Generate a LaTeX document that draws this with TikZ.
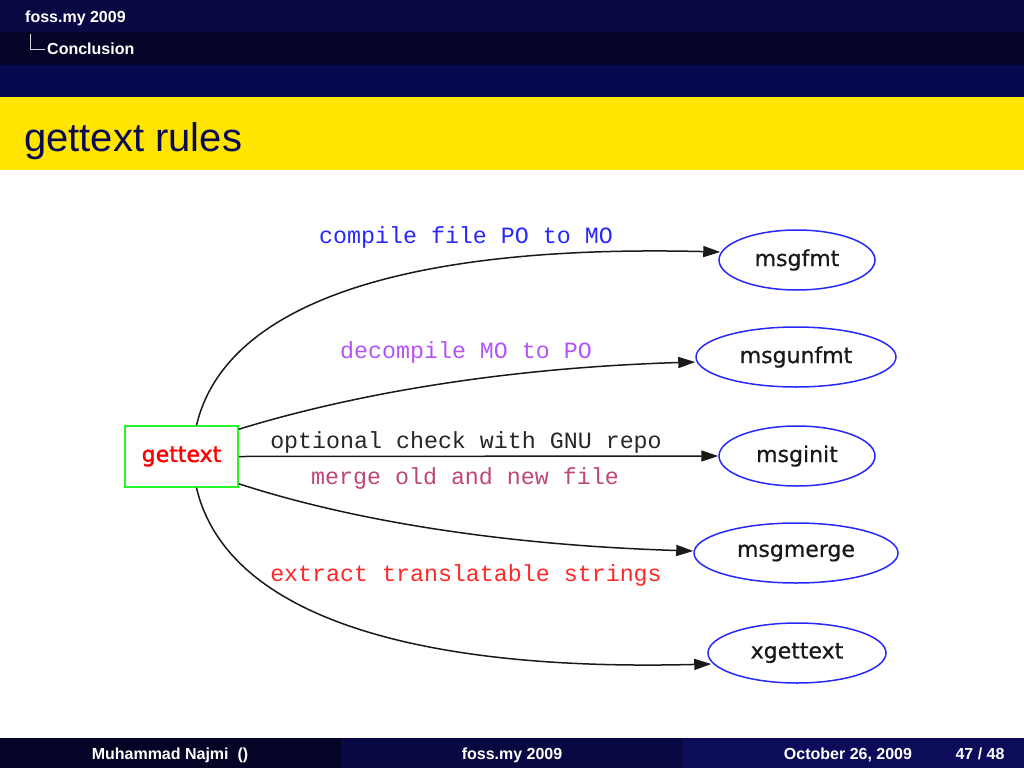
\documentclass[tikz,border=0pt]{standalone}
\usepackage{fontspec}
\setmainfont{Liberation Sans}
\newfontfamily\dejavu[FakeBold=0.6]{DejaVu Sans}
\newfontfamily\dejavubold[FakeBold=1.6]{DejaVu Sans}
\newfontfamily\monofam{Liberation Mono}
\usetikzlibrary{shapes.geometric,arrows.meta}
\definecolor{barA}{RGB}{8,8,66}
\definecolor{barB}{RGB}{4,4,38}
\definecolor{barC}{RGB}{8,8,82}
\definecolor{footA}{RGB}{4,4,38}
\definecolor{footB}{RGB}{8,8,66}
\definecolor{footC}{RGB}{12,12,90}
\definecolor{titleyellow}{RGB}{255,229,0}
\definecolor{titlefg}{RGB}{10,10,80}
\definecolor{ellblue}{RGB}{40,40,250}
\definecolor{boxgreen}{RGB}{40,245,40}
\definecolor{lblblue}{RGB}{40,40,250}
\definecolor{lblviolet}{RGB}{178,84,250}
\definecolor{lblmerge}{RGB}{190,70,120}
\definecolor{lblred}{RGB}{255,40,40}
\definecolor{edgecol}{RGB}{25,25,25}
\tikzset{
  tool/.style={ellipse, draw=ellblue, line width=1.5pt, inner sep=0pt, minimum height=60pt,
    font=\dejavu\fontsize{22}{24}\selectfont, text=black!90},
  srcbox/.style={rectangle, draw=boxgreen, line width=1.5pt, inner sep=0pt,
    minimum width=113pt, minimum height=61pt, font=\dejavubold\fontsize{22}{24}\selectfont, text=red},
  edge/.style={draw=edgecol, line width=1.5pt, -{Triangle[length=17pt,width=11pt]}},
  lbl/.style={anchor=base, inner sep=0pt, font=\monofam\fontsize{23.3}{24}\selectfont},
  hdr/.style={anchor=base west, inner sep=0pt, text=white, font=\bfseries\fontsize{16}{18}\selectfont},
  ftr/.style={anchor=base, inner sep=0pt, text=white, font=\bfseries\fontsize{16}{18}\selectfont}
}
\begin{document}
\begin{tikzpicture}[x=1pt,y=-1pt]
\useasboundingbox (0,0) rectangle (1024,768);
\fill[white] (0,0) rectangle (1024,768);
% header bars
\fill[barA] (0,0) rectangle (1024,32);
\fill[barB] (0,32) rectangle (1024,65);
\fill[barC] (0,65) rectangle (1024,97);
\fill[titleyellow] (0,97) rectangle (1024,170);
\node[hdr] (h1) at (25,23) {foss.my 2009};
\draw[white!85!black, line width=0.8pt] (30.5,34) -- (30.5,49.5) -- (45,49.5);
\node[hdr] (h2) at (47,55) {Conclusion};
\node[anchor=base west, inner sep=0pt, text=titlefg, font=\fontsize{40}{44}\selectfont] (title) at (24,151) {gettext rules};
% footer
\fill[footA] (0,738) rectangle (341,768);
\fill[footB] (341,738) rectangle (683,768);
\fill[footC] (683,738) rectangle (1024,768);
\node[ftr] (f1) at (170,759) {Muhammad Najmi\ \ ()};
\node[ftr] (f2) at (512,759) {foss.my 2009};
\node[ftr] (f3) at (848,759) {October 26, 2009};
\node[ftr] (f4) at (980,759) {47 / 48};
% nodes
\node[srcbox] (g) at (181.5,456.5) {gettext};
\node[tool, minimum width=156pt] (fmt) at (797,260) {msgfmt};
\node[tool, minimum width=200pt] (unf) at (796,357) {msgunfmt};
\node[tool, minimum width=156pt] (ini) at (797,456) {msginit};
\node[tool, minimum width=204pt] (mrg) at (796,553) {msgmerge};
\node[tool, minimum width=178pt] (xgt) at (797,653) {xgettext};
% edges
\draw[edge] ([xshift=15pt]g.north) .. controls (225,305) and (400,244) .. ([yshift=8pt,xshift=2pt]fmt.west);
\draw[edge] ([yshift=-4pt]g.north east) .. controls (350,395) and (500,368) .. ([yshift=-5pt]unf.west);
\draw[edge] (g.east) -- (ini.west);
\draw[edge] ([yshift=4pt]g.south east) .. controls (350,520) and (500,545) .. ([yshift=2pt]mrg.west);
\draw[edge] ([xshift=15pt]g.south) .. controls (225,610) and (400,672) .. ([yshift=-11pt,xshift=4pt]xgt.west);
% labels
\node[lbl, text=lblblue] (l1) at (466,243) {compile file PO to MO};
\node[lbl, text=lblviolet] (l2) at (466,358) {decompile MO to PO};
\node[lbl, text=black!85] (l3) at (466,448) {optional check with GNU repo};
\node[lbl, text=lblmerge] (l4) at (465,484) {merge old and new file};
\node[lbl, text=lblred] (l5) at (466,581.5) {extract translatable strings};
\end{tikzpicture}
\end{document}
